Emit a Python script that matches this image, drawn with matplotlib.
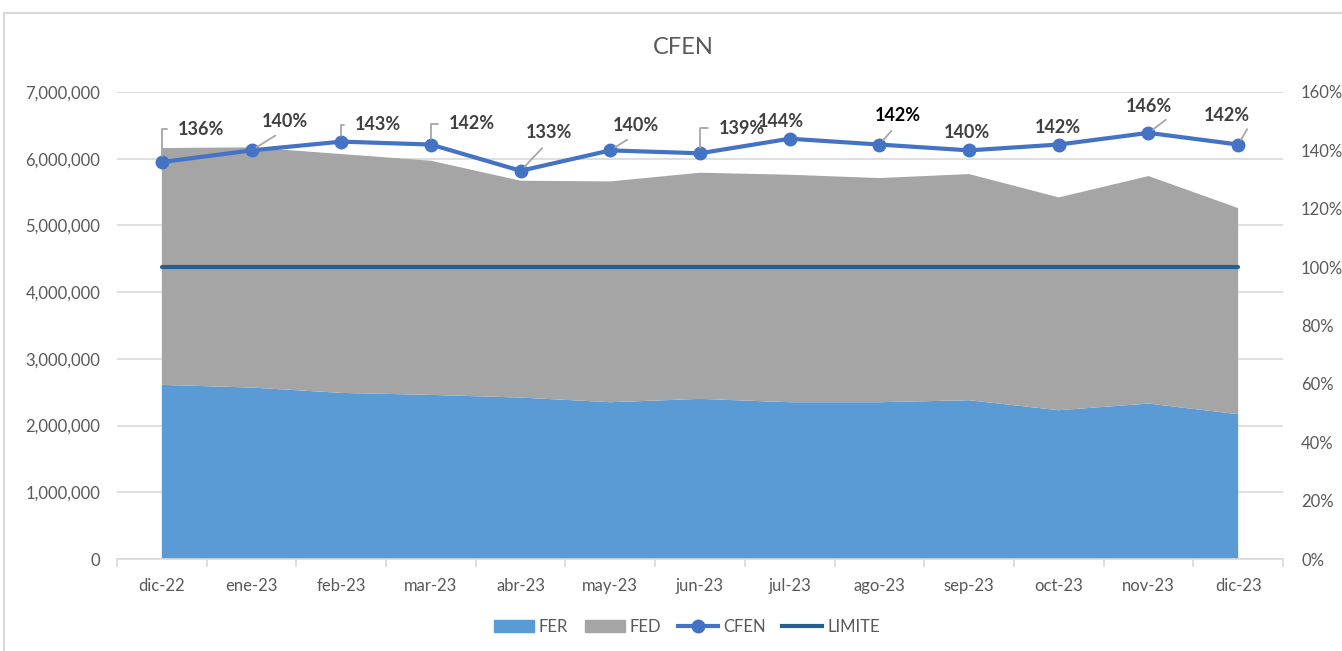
import matplotlib.pyplot as plt
from matplotlib.patches import Patch, Rectangle
from matplotlib.lines import Line2D
from matplotlib.ticker import FuncFormatter, MultipleLocator

plt.rcParams['font.family'] = ['Lato', 'DejaVu Sans']

# data
months = ['dic-22', 'ene-23', 'feb-23', 'mar-23', 'abr-23', 'may-23', 'jun-23',
          'jul-23', 'ago-23', 'sep-23', 'oct-23', 'nov-23', 'dic-23']
fer = [2610000, 2570000, 2490000, 2460000, 2420000, 2350000, 2400000,
       2350000, 2350000, 2380000, 2230000, 2330000, 2170000]
total = [6160000, 6170000, 6070000, 5970000, 5670000, 5660000, 5790000,
         5760000, 5710000, 5770000, 5420000, 5740000, 5260000]
fed = [t - f for t, f in zip(total, fer)]
cfen = [1.36, 1.40, 1.43, 1.42, 1.33, 1.40, 1.39, 1.44, 1.42, 1.40, 1.42, 1.46, 1.42]
limite = [1.0, 1.0, 1.0, 1.0, 1.0, 1.0, 1.0, 1.0, 1.0, 1.0, 1.0, 1.0, 1.0]

# label placement (pixel offsets from the marker) and leader style
lbl_off = [(39, 33), (33, 29), (37, 17), (41, 21), (28, 38), (26, 25), (42, 25),
           (-9, 17), (18, 29), (-2, 18), (-1, 17), (0, 26), (-11, 29)]
lbl_leader = ['elbow', 'diag', 'elbow', 'elbow', 'diag', 'diag', 'elbow',
              None, 'diag', None, None, 'diag_r', 'diag_r']

C_FER = '#5B9BD5'
C_FED = '#A5A5A5'
C_CFEN = '#4472C4'
C_LIM = '#255E91'
C_TXT = '#595959'
C_GRID = '#D9D9D9'

fig = plt.figure(figsize=(13.42, 6.51), dpi=100)
ax = fig.add_axes([117 / 1342, (651 - 559) / 651, (1283 - 117) / 1342, (559 - 92) / 651])
x = list(range(len(months)))

ax.stackplot(x, fer, fed, colors=[C_FER, C_FED], zorder=2)
ax.set_xlim(-0.5, len(months) - 0.5)
ax.set_ylim(0, 7000000)
ax.yaxis.set_major_locator(MultipleLocator(1000000))
ax.yaxis.set_major_formatter(FuncFormatter(lambda v, p: f'{v:,.0f}'))
ax.grid(axis='y', color=C_GRID, lw=1.2, zorder=0)
ax.set_axisbelow(True)
ax.set_xticks(x)
ax.set_xticklabels(months)
ax.set_xticks([i - 0.5 for i in range(len(months) + 1)], minor=True)
ax.tick_params(axis='x', which='major', length=0, pad=14, labelsize=12, labelcolor=C_TXT)
ax.tick_params(axis='x', which='minor', length=6, color=C_GRID, width=1.2)
ax.tick_params(axis='y', length=0, pad=12, labelsize=12, labelcolor=C_TXT)
for s in ['top', 'left', 'right']:
    ax.spines[s].set_visible(False)
ax.spines['bottom'].set_color(C_GRID)
ax.spines['bottom'].set_linewidth(1.2)

ax2 = ax.twinx()
ax2.set_ylim(0, 1.6)
ax2.yaxis.set_major_locator(MultipleLocator(0.2))
ax2.yaxis.set_major_formatter(FuncFormatter(lambda v, p: f'{v:.0%}'))
ax2.tick_params(axis='y', length=0, pad=13, labelsize=12, labelcolor=C_TXT)
for s in ['top', 'left', 'right', 'bottom']:
    ax2.spines[s].set_visible(False)

ax2.plot(x, limite, color=C_LIM, lw=3, solid_capstyle='round', zorder=3)
ax2.plot(x, cfen, color=C_CFEN, lw=3, marker='o', markersize=9, zorder=4)

# data labels with leader lines
for i, v in enumerate(cfen):
    dx, dy = lbl_off[i]
    kind = lbl_leader[i]
    col = '#000000' if months[i] == 'ago-23' else '#404040'
    kw = dict(textcoords='offset pixels', ha='center', va='center',
              fontsize=13, fontweight='bold', color=col, zorder=6)
    if kind == 'elbow':
        kw['arrowprops'] = dict(arrowstyle='-', color='#A6A6A6', lw=1.3,
                                connectionstyle='angle,angleA=0,angleB=90,rad=0',
                                relpos=(0, 0.5), shrinkA=6, shrinkB=4)
    elif kind == 'diag':
        kw['arrowprops'] = dict(arrowstyle='-', color='#A6A6A6', lw=1.3,
                                relpos=(0.5, 0), shrinkA=4, shrinkB=4)
    elif kind == 'diag_r':
        kw['arrowprops'] = dict(arrowstyle='-', color='#A6A6A6', lw=1.3,
                                relpos=(1, 0), shrinkA=2, shrinkB=4)
    ax2.annotate(f'{v:.0%}', xy=(i, v), xytext=(dx, dy), **kw)

fig.text(683 / 1342, 1 - 47 / 651, 'CFEN', ha='center', va='center',
         fontsize=17, color=C_TXT)

handles = [Patch(color=C_FER), Patch(color=C_FED),
           Line2D([], [], color=C_CFEN, lw=3, marker='o', markersize=9),
           Line2D([], [], color=C_LIM, lw=3)]
fig.legend(handles, ['FER', 'FED', 'CFEN', 'LIMITE'], loc='center',
           bbox_to_anchor=(687 / 1342, (651 - 627) / 651), ncol=4, frameon=False,
           fontsize=12, labelcolor=C_TXT, handlelength=2.4, handletextpad=0.3,
           columnspacing=1.0)

# chart frame
fig.add_artist(Rectangle((4 / 1342, -0.1), 2, 0.1 + (651 - 13) / 651,
                         transform=fig.transFigure, fill=False,
                         edgecolor=C_GRID, lw=1.5))

fig.savefig('out.png', dpi=100)
